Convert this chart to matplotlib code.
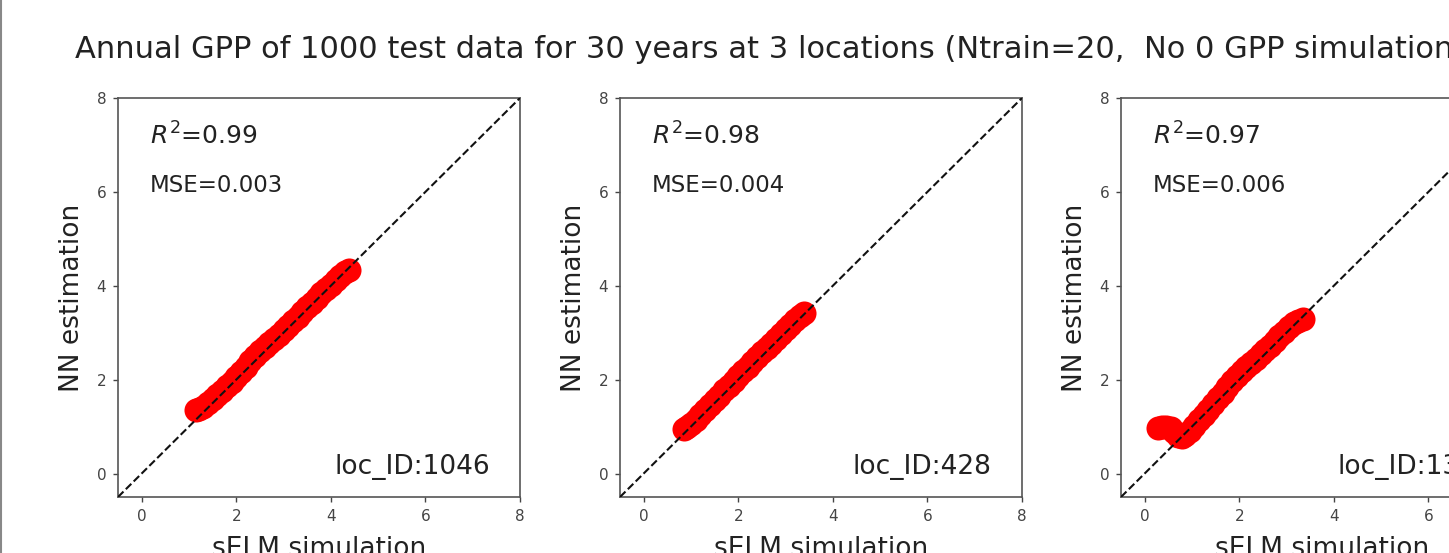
import matplotlib
matplotlib.use("Agg")
import matplotlib.pyplot as plt
from matplotlib.lines import Line2D

W, H, DPI = 1449, 553, 100

title = "Annual GPP of 1000 test data for 30 years at 3 locations (Ntrain=20,  No 0 GPP simulation)"
xlabel = "sELM simulation"
ylabel = "NN estimation"
ticks = [0, 2, 4, 6, 8]
lims = (-0.5, 8)

loc_ids = ["1046", "428", "1340"]
r2_vals = ["0.99", "0.98", "0.97"]
mse_vals = ["0.003", "0.004", "0.006"]

# points read along the red bands (sELM simulation, NN estimation)
sim_1046 = [1.15, 1.22, 1.3, 1.4, 1.5, 1.6, 1.7, 1.8, 1.9, 2.0, 2.1, 2.2, 2.3, 2.4, 2.5, 2.6, 2.7,
            2.8, 2.9, 3.0, 3.1, 3.2, 3.3, 3.4, 3.5, 3.6, 3.7, 3.8, 3.9, 4.0, 4.1, 4.2, 4.3, 4.38]
nn_1046 = [1.35, 1.38, 1.42, 1.5, 1.58, 1.68, 1.76, 1.86, 1.96, 2.06, 2.17, 2.28, 2.4, 2.5, 2.6,
           2.7, 2.78, 2.87, 2.96, 3.05, 3.15, 3.25, 3.34, 3.44, 3.54, 3.64, 3.74, 3.84, 3.93, 4.02,
           4.12, 4.21, 4.3, 4.34]

sim_428 = [0.85, 0.92, 1.0, 1.1, 1.2, 1.3, 1.4, 1.5, 1.6, 1.7, 1.8, 1.9, 2.0, 2.1, 2.2, 2.3, 2.4,
           2.5, 2.6, 2.7, 2.8, 2.9, 3.0, 3.1, 3.2, 3.3, 3.38]
nn_428 = [0.95, 0.99, 1.05, 1.15, 1.25, 1.35, 1.45, 1.56, 1.66, 1.77, 1.87, 1.98, 2.08, 2.18, 2.28,
          2.38, 2.48, 2.58, 2.67, 2.77, 2.87, 2.97, 3.07, 3.17, 3.27, 3.36, 3.42]

sim_1340 = [0.28, 0.36, 0.45, 0.55, 0.62, 0.7, 0.78, 0.86, 0.95, 1.05, 1.15, 1.25, 1.35, 1.45,
            1.55, 1.65, 1.75, 1.85, 1.95, 2.05, 2.15, 2.25, 2.35, 2.45, 2.55, 2.65, 2.75, 2.85,
            2.95, 3.05, 3.15, 3.25, 3.35]
nn_1340 = [0.98, 1.0, 1.0, 0.98, 0.88, 0.8, 0.78, 0.82, 0.9, 1.02, 1.14, 1.25, 1.36, 1.48, 1.6,
           1.72, 1.85, 1.97, 2.08, 2.18, 2.27, 2.36, 2.45, 2.54, 2.63, 2.72, 2.82, 2.92, 3.02,
           3.12, 3.2, 3.26, 3.3]

sims = [sim_1046, sim_428, sim_1340]
nns = [nn_1046, nn_428, nn_1340]

fig = plt.figure(figsize=(W / DPI, H / DPI), dpi=DPI)

ax_left_px = [118, 620, 1121]
ax_w_px, ax_top_px, ax_bot_px = 402, 98, 497

for i in range(3):
    ax = fig.add_axes([ax_left_px[i] / W, (H - ax_bot_px) / H, ax_w_px / W,
                       (ax_bot_px - ax_top_px) / H])
    ax.scatter(sims[i], nns[i], s=300, color="#ff0000", marker="o", linewidths=0, zorder=2)
    ax.plot(lims, lims, linestyle="--", color="#111111", lw=1.5, zorder=3)
    ax.set_xlim(lims)
    ax.set_ylim(lims)
    ax.set_xticks(ticks)
    ax.set_yticks(ticks)
    ax.tick_params(labelsize=11, colors="#444444", length=3.5, width=1, pad=5)
    for sp in ax.spines.values():
        sp.set_color("#555555")
        sp.set_linewidth(1.2)
    ax.set_xlabel(xlabel, fontsize=19, color="#222222", labelpad=9)
    ax.set_ylabel(ylabel, fontsize=19, color="#222222", labelpad=8)
    ax.text(0.08, 0.905, "$R^2$=" + r2_vals[i], transform=ax.transAxes, fontsize=18,
            ha="left", va="center", color="#222222")
    ax.text(0.08, 0.78, "MSE=" + mse_vals[i], transform=ax.transAxes, fontsize=16.5,
            ha="left", va="center", color="#222222")
    ax.text(0.925, 0.075, "loc_ID:" + loc_ids[i], transform=ax.transAxes, fontsize=19,
            ha="right", va="center", color="#222222")

fig.text(75 / W, 1 - 50 / H, title, fontsize=22, ha="left", va="center", color="#222222")
fig.add_artist(Line2D([0.0008, 0.0008], [0, 1], transform=fig.transFigure, color="#888888", lw=1.5))

fig.savefig("out.png", dpi=DPI)
